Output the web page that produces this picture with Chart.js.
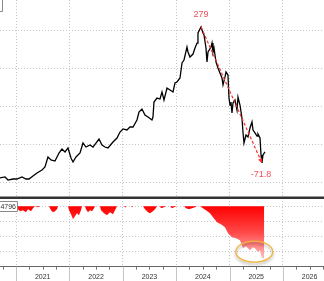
<!DOCTYPE html>
<html>
<head>
<meta charset="utf-8">
<script src="https://cdn.jsdelivr.net/npm/chart.js@4.4.1/dist/chart.umd.min.js"></script>
<style>
  html, body { margin: 0; padding: 0; background: #fff; overflow: hidden; }
  #wrap { width: 324px; height: 281px; }
</style>
</head>
<body>
<div id="wrap"><canvas id="chart" width="324" height="281"></canvas></div>
<script>
// price line (decimal year, price)
const dates = [
  2020.700, 2020.794, 2020.850, 2020.944, 2021.018, 2021.112, 2021.187, 2021.243, 2021.318, 2021.393,
  2021.487, 2021.543, 2021.599, 2021.655, 2021.730, 2021.805, 2021.861, 2021.918, 2021.974, 2022.030,
  2022.068, 2022.124, 2022.199, 2022.255, 2022.311, 2022.386, 2022.442, 2022.498, 2022.555, 2022.611,
  2022.667, 2022.723, 2022.817, 2022.892, 2022.948, 2023.004, 2023.079, 2023.135, 2023.192, 2023.266,
  2023.304, 2023.360, 2023.416, 2023.473, 2023.547, 2023.566, 2023.585, 2023.641, 2023.697, 2023.735,
  2023.772, 2023.829, 2023.885, 2023.941, 2023.978, 2024.016, 2024.072, 2024.110, 2024.147, 2024.203,
  2024.222, 2024.259, 2024.316, 2024.353, 2024.391, 2024.409, 2024.466, 2024.503, 2024.522, 2024.559,
  2024.578, 2024.597, 2024.653, 2024.672, 2024.690, 2024.709, 2024.747, 2024.784, 2024.821, 2024.859,
  2024.878, 2024.915, 2024.934, 2024.971, 2024.990, 2025.009, 2025.027, 2025.046, 2025.065, 2025.102,
  2025.140, 2025.159, 2025.196, 2025.233, 2025.252, 2025.271, 2025.308, 2025.346, 2025.383, 2025.421,
  2025.440, 2025.477, 2025.515, 2025.533, 2025.571, 2025.590, 2025.608, 2025.627, 2025.664
];
const prices = [
  56.6, 58.1, 53.6, 55.1, 55.1, 58.1, 55.1, 55.1, 59.5, 64.0,
  68.4, 72.8, 87.5, 83.1, 81.6, 93.4, 99.3, 94.9, 100.8, 86.0,
  80.1, 87.5, 93.4, 108.1, 102.2, 105.2, 102.2, 108.1, 114.0, 105.2,
  102.2, 100.8, 109.6, 115.5, 124.3, 128.8, 127.3, 131.7, 131.7, 142.0,
  153.8, 158.2, 149.4, 146.4, 142.0, 146.4, 168.5, 174.4, 172.9, 183.3,
  171.5, 189.1, 186.2, 183.3, 196.5, 198.0, 203.9, 226.0, 230.4, 249.5,
  242.2, 234.8, 239.2, 248.1, 255.4, 270.2, 279.0, 270.2, 267.2, 248.1,
  227.4, 242.2, 249.5, 255.4, 242.2, 248.1, 227.4, 218.6, 211.2, 203.9,
  193.6, 205.4, 212.7, 208.3, 174.4, 164.1, 168.5, 152.3, 167.0, 171.5,
  156.7, 175.9, 164.1, 145.0, 124.3, 108.1, 119.9, 117.0, 130.2, 139.1,
  127.3, 122.9, 118.4, 121.4, 115.5, 90.5, 78.7, 90.5, 94.9
];

// drawdown panel (decimal year, % below previous high)
const ddDates = [
  2020.981, 2021.037, 2021.075, 2021.131, 2021.187, 2021.225, 2021.281, 2021.318, 2021.356, 2021.412,
  2021.449, 2021.618, 2021.655, 2021.693, 2021.730, 2021.768, 2021.787, 2021.974, 2021.993, 2022.030,
  2022.068, 2022.105, 2022.142, 2022.180, 2022.217, 2022.236, 2022.292, 2022.311, 2022.349, 2022.386,
  2022.424, 2022.461, 2022.480, 2022.573, 2022.592, 2022.648, 2022.704, 2022.761, 2022.817, 2022.854,
  2022.892, 2023.023, 2023.042, 2023.060, 2023.154, 2023.173, 2023.192, 2023.379, 2023.416, 2023.473,
  2023.510, 2023.566, 2023.604, 2023.641, 2023.697, 2023.716, 2023.772, 2023.810, 2023.885, 2023.922,
  2023.960, 2024.016, 2024.147, 2024.185, 2024.241, 2024.297, 2024.353, 2024.391, 2024.447, 2024.503,
  2024.559, 2024.634, 2024.690, 2024.765, 2024.840, 2024.915, 2024.971, 2025.046, 2025.121, 2025.196,
  2025.252, 2025.308, 2025.383, 2025.440, 2025.477, 2025.533, 2025.571, 2025.608, 2025.646, 2025.650
];
const ddValues = [
  0, -3.9, -6.6, -5.3, -7.9, -3.9, -6.6, -2.6, 0, -1.3,
  0, 0, -5.3, -7.9, -6.6, -3.9, 0, 0, -5.3, -10.5,
  -17.1, -13.2, -9.2, -11.8, -5.3, 0, 0, -3.9, -7.9, -5.3,
  -6.6, -2.6, 0, 0, -5.3, -9.2, -11.8, -7.9, -10.5, -5.3,
  0, 0, -1.3, 0, 0, -1.3, 0, 0, -3.9, -7.9,
  -9.2, -6.6, -3.9, 0, 0, -2.6, -1.3, 0, 0, -2.6,
  -1.3, 0, 0, -2.6, -3.9, -2.6, -1.3, 0, 0, -2.6,
  -5.3, -9.2, -14.5, -21.1, -23.7, -27.6, -35.5, -40.8, -42.1, -44.7,
  -55.3, -52.6, -57.9, -53.9, -55.3, -60.5, -57.9, -68.4, -68.4, 0
];

const yearTicks = [2021, 2022, 2023, 2024, 2025, 2026];
const priceGrid = [49.2, 105.2, 161.2, 217.2, 273.2];
const ddGrid = [0, -20, -40, -60];
const boxValue = '-4.4796';
const ringCenter = { x: 2025.464, y: -59.7 };

const FONT = 'Liberation Sans, Arial, sans-serif';

const peakIdx = prices.indexOf(Math.max(...prices));
const after = prices.slice(peakIdx);
const lowIdx = peakIdx + after.indexOf(Math.min(...after));
const dropPct = (prices[lowIdx] / prices[peakIdx] - 1) * 100;

const decor = {
  id: 'decor',
  afterDraw(chart) {
    const { ctx, chartArea } = chart;
    const x = chart.scales.x, y = chart.scales.y, y2 = chart.scales.y2;
    ctx.save();

    // year lines and quarter ticks under the axis
    const bottom = chartArea.bottom;
    ctx.lineWidth = 1;
    ctx.strokeStyle = '#c4c4c4';
    yearTicks.forEach(yr => {
      const px = Math.round(x.getPixelForValue(yr)) + 0.5;
      ctx.beginPath(); ctx.moveTo(px, bottom); ctx.lineTo(px, chart.height); ctx.stroke();
    });
    ctx.strokeStyle = '#777';
    for (let yr = 2020; yr <= 2026; yr++) {
      [0.25, 0.5, 0.75].forEach(q => {
        const v = yr + q;
        if (v < x.min || v > x.max) return;
        const px = Math.round(x.getPixelForValue(v)) + 0.5;
        ctx.beginPath(); ctx.moveTo(px, bottom); ctx.lineTo(px, bottom + 3); ctx.stroke();
      });
    }

    // panel separator
    ctx.fillStyle = '#333';
    ctx.fillRect(0, y.bottom - 1.5, chart.width, 2.5);

    // peak to low dashed arrow
    const px1 = x.getPixelForValue(dates[peakIdx]), py1 = y.getPixelForValue(prices[peakIdx]);
    const px2 = x.getPixelForValue(dates[lowIdx]), py2 = y.getPixelForValue(prices[lowIdx]);
    ctx.strokeStyle = '#ff2a2a';
    ctx.lineWidth = 1.2;
    ctx.setLineDash([3, 2]);
    ctx.beginPath(); ctx.moveTo(px1, py1); ctx.lineTo(px2, py2); ctx.stroke();
    ctx.setLineDash([]);
    const ang = Math.atan2(py2 - py1, px2 - px1);
    ctx.fillStyle = '#ff2a2a';
    ctx.beginPath();
    ctx.moveTo(px2, py2);
    ctx.lineTo(px2 - 5 * Math.cos(ang - 0.45), py2 - 5 * Math.sin(ang - 0.45));
    ctx.lineTo(px2 - 5 * Math.cos(ang + 0.45), py2 - 5 * Math.sin(ang + 0.45));
    ctx.closePath(); ctx.fill();

    ctx.fillStyle = '#f0505a';
    ctx.font = '9px ' + FONT;
    ctx.textAlign = 'center';
    ctx.textBaseline = 'middle';
    ctx.fillText(prices[peakIdx].toFixed(0), px1, py1 - 12);
    ctx.fillText(dropPct.toFixed(1), px2 - 1, py2 + 12);

    // ring round the latest drawdown
    const cx = x.getPixelForValue(ringCenter.x), cy = y2.getPixelForValue(ringCenter.y);
    ctx.save();
    ctx.shadowColor = 'rgba(0,0,0,0.35)';
    ctx.shadowBlur = 3;
    ctx.shadowOffsetY = 2;
    ctx.strokeStyle = '#f3b63a';
    ctx.lineWidth = 1.3;
    ctx.beginPath(); ctx.ellipse(cx, cy, 18.5, 10.5, 0, 0, Math.PI * 2); ctx.stroke();
    ctx.restore();

    // cut-off value boxes on the left
    ctx.fillStyle = '#fff';
    ctx.strokeStyle = '#8a8a8a';
    ctx.lineWidth = 1;
    ctx.beginPath(); ctx.rect(-10.5, 201.5, 28, 10); ctx.fill(); ctx.stroke();
    ctx.fillStyle = '#333';
    ctx.font = '7px ' + FONT;
    ctx.textAlign = 'right';
    ctx.fillText(boxValue, 16, 207);
    ctx.beginPath(); ctx.rect(-20.5, -1.5, 23, 13); ctx.stroke();

    ctx.restore();
  }
};

const gradFill = (c) => {
  const chart = c.chart;
  if (!chart.chartArea) return '#ff0000';
  const s = chart.scales.y2;
  const g = chart.ctx.createLinearGradient(0, s.getPixelForValue(0), 0, s.getPixelForValue(-70));
  g.addColorStop(0, '#ff0000');
  g.addColorStop(0.5, '#ff4a4a');
  g.addColorStop(1, '#ffc4c4');
  return g;
};

new Chart(document.getElementById('chart'), {
  type: 'line',
  data: {
    datasets: [
      {
        data: dates.map((d, i) => ({ x: d, y: prices[i] })),
        yAxisID: 'y',
        borderColor: '#000',
        borderWidth: 1.3,
        pointRadius: 0,
        tension: 0,
      },
      {
        data: ddDates.map((d, i) => ({ x: d, y: ddValues[i] })),
        yAxisID: 'y2',
        borderWidth: 0,
        borderColor: 'rgba(0,0,0,0)',
        backgroundColor: gradFill,
        fill: 'origin',
        pointRadius: 0,
        tension: 0,
      },
    ],
  },
  options: {
    responsive: false,
    animation: false,
    layout: { padding: 0 },
    plugins: { legend: { display: false }, tooltip: { enabled: false } },
    scales: {
      // left stacks are laid out in reverse order, so the lower panel comes first
      y2: {
        position: 'left',
        stack: 'panels',
        stackWeight: 68.7,
        min: -79.5,
        max: 10.9,
        afterBuildTicks: (s) => { s.ticks = ddGrid.map(v => ({ value: v })); },
        ticks: { display: false },
        grid: { color: '#c6c6c6', drawTicks: false },
        border: { display: false, dash: [1, 2] },
      },
      y: {
        position: 'left',
        stack: 'panels',
        stackWeight: 198,
        min: 27.1,
        max: 318.8,
        afterBuildTicks: (s) => { s.ticks = priceGrid.map(v => ({ value: v })); },
        ticks: { display: false },
        grid: { color: '#c6c6c6', drawTicks: false },
        border: { display: false, dash: [1, 2] },
      },
      x: {
        type: 'linear',
        min: 2020.70,
        max: 2026.77,
        afterBuildTicks: (s) => { s.ticks = yearTicks.map(v => ({ value: v })); },
        afterFit: (s) => { s.height = 14.3; },
        ticks: {
          callback: (v) => String(v),
          labelOffset: 26.7,
          padding: 6,
          color: '#333',
          font: { size: 7, family: FONT },
          maxRotation: 0,
          autoSkip: false,
        },
        grid: { color: '#c6c6c6', drawTicks: false },
        border: { display: true, color: '#666', dash: [1, 2] },
      },
    },
  },
  plugins: [decor],
});
</script>
</body>
</html>
